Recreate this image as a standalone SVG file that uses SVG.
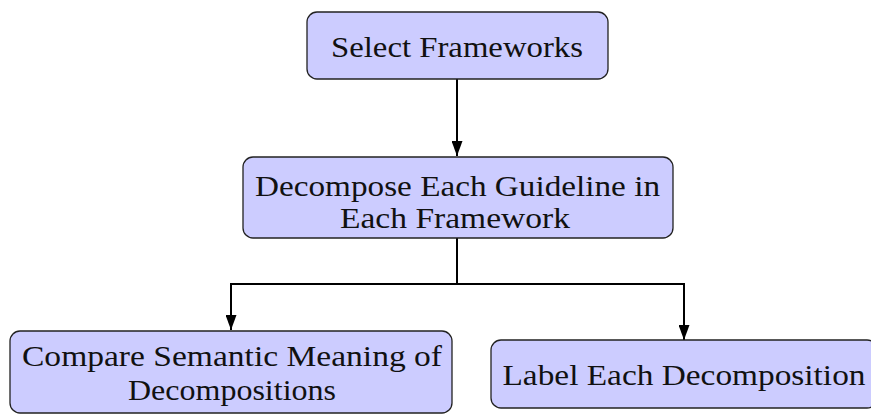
<svg xmlns="http://www.w3.org/2000/svg" width="871" height="415" viewBox="0 0 871 415">
  <style>
    .box { fill: #ccccff; stroke: #222; stroke-width: 1.3; }
    .lbl { font-family: 'Liberation Serif', 'Times New Roman', serif; font-size: 29px; fill: #111; text-anchor: middle; }
    .wire { fill: none; stroke: #000; stroke-width: 2; }
  </style>
  <defs>
    <marker id="arrow" viewBox="0 0 15 11" refX="15" refY="5.5" markerWidth="15" markerHeight="11" markerUnits="userSpaceOnUse" orient="auto">
      <path d="M0,0 L15,5.5 L0,11 Z" fill="#000"/>
    </marker>
  </defs>

  <g id="connectors">
    <path class="wire" d="M457,79 V156" marker-end="url(#arrow)"/>
    <path class="wire" d="M457,238 V284"/>
    <path class="wire" d="M458,284 H231 V330" marker-end="url(#arrow)"/>
    <path class="wire" d="M456,284 H684 V340" marker-end="url(#arrow)"/>
  </g>

  <g id="select-frameworks">
    <rect class="box" x="307" y="12" width="301" height="67" rx="10"/>
    <text class="lbl" x="457" y="57" textLength="252" lengthAdjust="spacingAndGlyphs">Select Frameworks</text>
  </g>

  <g id="decompose-guidelines">
    <rect class="box" x="243" y="157" width="430" height="81" rx="10"/>
    <text class="lbl" x="457.5" y="196" textLength="405" lengthAdjust="spacingAndGlyphs">Decompose Each Guideline in</text>
    <text class="lbl" x="455" y="228" textLength="230" lengthAdjust="spacingAndGlyphs">Each Framework</text>
  </g>

  <g id="compare-meaning">
    <rect class="box" x="10" y="331" width="442" height="82" rx="10"/>
    <text class="lbl" x="232" y="366" textLength="420" lengthAdjust="spacingAndGlyphs">Compare Semantic Meaning of</text>
    <text class="lbl" x="232" y="400" textLength="208" lengthAdjust="spacingAndGlyphs">Decompositions</text>
  </g>

  <g id="label-decomposition">
    <rect class="box" x="491" y="340" width="386" height="68" rx="10"/>
    <text class="lbl" x="684" y="385" textLength="363" lengthAdjust="spacingAndGlyphs">Label Each Decomposition</text>
  </g>
</svg>
